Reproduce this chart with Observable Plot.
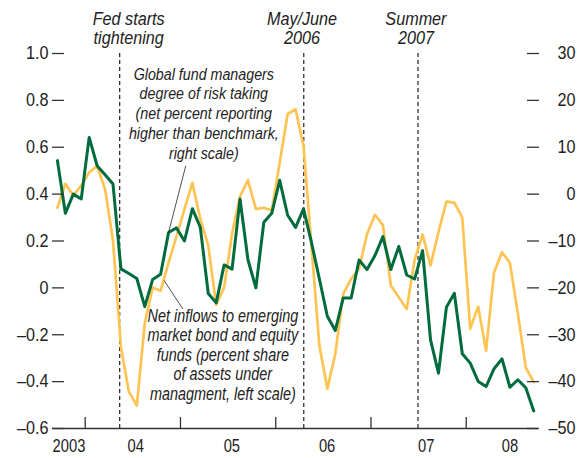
<!DOCTYPE html>
<html><head><meta charset="utf-8">
<script src="https://cdn.jsdelivr.net/npm/d3@7"></script>
<script src="https://cdn.jsdelivr.net/npm/@observablehq/plot@0.6"></script>
<style>
html,body{margin:0;padding:0;background:#fff;}
#chart svg{display:block;}
</style></head><body><div id="chart"></div>
<script>
// Monthly observations, Sep 2003 .. Sep 2008 (x = month index from Sep 2003)
const firstMonth = "2003-09";
// Net inflows to EM bond & equity funds, % of AUM (left scale)
const netInflows = [0.543,0.318,0.400,0.379,0.642,0.521,0.483,0.443,0.081,0.061,0.040,-0.080,0.036,0.058,0.236,0.256,0.200,0.338,0.258,-0.024,-0.064,0.098,0.080,0.379,0.120,0.000,0.280,0.318,0.459,0.310,0.258,0.337,0.194,0.038,-0.121,-0.182,-0.043,-0.043,0.119,0.078,0.138,0.219,0.078,0.177,0.055,0.038,0.159,-0.222,-0.364,-0.083,-0.023,-0.281,-0.321,-0.399,-0.421,-0.345,-0.303,-0.424,-0.392,-0.426,-0.525];
// Global fund managers' degree of risk taking, net % (right scale)
const riskTaking = [-2.9,2.2,-0.3,1.8,4.6,6.0,1.1,-9.9,-32.6,-42.2,-45.1,-27.6,-19.9,-20.6,-14.6,-9.0,-3.2,2.4,-5.3,-11.0,-23.6,-19.9,-8.4,-0.5,3.0,-3.2,-2.9,-3.5,6.7,17.1,18.1,10.3,-11.0,-32.3,-41.5,-34.1,-21.3,-18.1,-15.9,-8.5,-4.4,-6.6,-19.5,-22.0,-24.5,-14.0,-8.6,-15.2,-8.1,-1.6,-1.8,-5.0,-28.7,-24.0,-33.4,-16.7,-12.4,-14.7,-25.5,-37.0,-40.1];

const leftTicks = [1.0,0.8,0.6,0.4,0.2,0,-0.2,-0.4,-0.6];
const rightTicks = [30,20,10,0,-10,-20,-30,-40,-50];
const yearTicks = [3.5,15.5,27.5,39.5,51.5];          // year boundaries (month index)
const yearLabels = ["2003","04","05","06","07","08"];
const yearLabelPos = [1.46,9.86,21.97,33.97,46.46,57.0];

const events = [
  {x: 7.84, labelX: 8.97, label: "Fed starts\ntightening"},
  {x: 31.03, labelX: 30.81, label: "May/June\n2006"},
  {x: 45.42, labelX: 45.16, label: "Summer\n2007"}
];
const notes = [
  {x: 18.44, y: 0.550, size: 17.4, lh: 1.14, text: "Global fund managers\ndegree of risk taking\n(net percent reporting\nhigher than benchmark,\nright scale)"},
  {x: 20.84, y: -0.477, size: 17.6, lh: 1.105, text: "Net inflows to emerging\nmarket bond and equity\nfunds (percent share\nof assets under\nmanagment, left scale)"}
];
const pointers = [
  {x1: 16.17, y1: 0.521, x2: 14, y2: 0.236},
  {x1: 13.45, y1: 0.031, x2: 15.79, y2: -0.0895}
];

const FONT = '"Liberation Sans",Arial,sans-serif';
const GREEN = "#006b3c", YELLOW = "#fdc453", INK = "#222";
const toLeft = r => -0.6 + (r + 50) * 0.02;
const minus = s => s.replace("-", "\u2013");
const leftFmt = d => d === 0 ? "0" : minus(d.toFixed(1));
const rightFmt = d => minus(String(rightTicks[leftTicks.findIndex(t => Math.abs(t - d) < 1e-9)]));
const idx = d3.range(netInflows.length);

const chart = Plot.plot({
  width: 579, height: 458,
  marginLeft: 52, marginRight: 41, marginTop: 53, marginBottom: 30,
  x: {domain: [-0.62, 60.6]},
  y: {domain: [-0.6, 1.0]},
  style: {fontFamily: FONT, fontSize: "18px", color: INK, background: "#fff", overflow: "visible"},
  marks: [
    Plot.ruleX(events, {x: "x", y1: -0.6, y2: 1.0, stroke: "#333", strokeWidth: 1.3, strokeDasharray: "4,3"}),
    Plot.line(idx, {x: i => i, y: i => toLeft(riskTaking[i]), stroke: YELLOW, strokeWidth: 2.7}),
    Plot.line(idx, {x: i => i, y: i => netInflows[i], stroke: GREEN, strokeWidth: 3}),
    Plot.ruleY([-0.6], {stroke: "#333", strokeWidth: 1.5}),
    Plot.axisX(yearTicks, {anchor: "bottom", tickSize: 11, insetBottom: 11, fill: "none", stroke: "#333", strokeWidth: 1.3, label: null}),
    Plot.text(yearLabels, {x: (d, i) => yearLabelPos[i], frameAnchor: "bottom", dy: 23.7, lineAnchor: "bottom", fontSize: 18, fill: INK}),
    Plot.axisY(leftTicks, {anchor: "left", tickSize: 12, insetLeft: 12, tickPadding: 4, tickFormat: leftFmt, stroke: "#333", strokeWidth: 1.3, fill: INK, fontSize: 18, label: null}),
    Plot.axisY(leftTicks, {anchor: "right", tickSize: 12, insetRight: 12, tickPadding: 37, textAnchor: "end", tickFormat: rightFmt, stroke: "#333", strokeWidth: 1.3, fill: INK, fontSize: 18, label: null}),
    Plot.text(events, {x: "labelX", text: "label", frameAnchor: "top", dy: -9.4, lineAnchor: "bottom", lineHeight: 1.07, fontSize: 18, fontStyle: "italic", fill: INK}),
    Plot.link(pointers, {x1: "x1", y1: "y1", x2: "x2", y2: "y2", stroke: INK, strokeWidth: 0.8}),
    ...notes.map(n => Plot.text([n], {x: "x", y: "y", text: "text", lineAnchor: "bottom", lineHeight: n.lh, fontSize: n.size, fontStyle: "italic", fill: INK}))
  ]
});

// condensed type: squeeze glyphs horizontally around each label's anchor
chart.querySelectorAll("text").forEach(t => {
  const p = t.parentNode && t.parentNode.getAttribute("aria-label") || "";
  const s = t.textContent;
  let sx = 0.82;
  if (p.includes("tick label")) sx = 0.9;
  else if (/^(Fed|May|Summer)/.test(s)) sx = 0.9;
  const tr = t.getAttribute("transform");
  if (tr) t.setAttribute("transform", tr + ` scale(${sx},1)`);
});
document.getElementById("chart").appendChild(chart);
</script></body></html>
